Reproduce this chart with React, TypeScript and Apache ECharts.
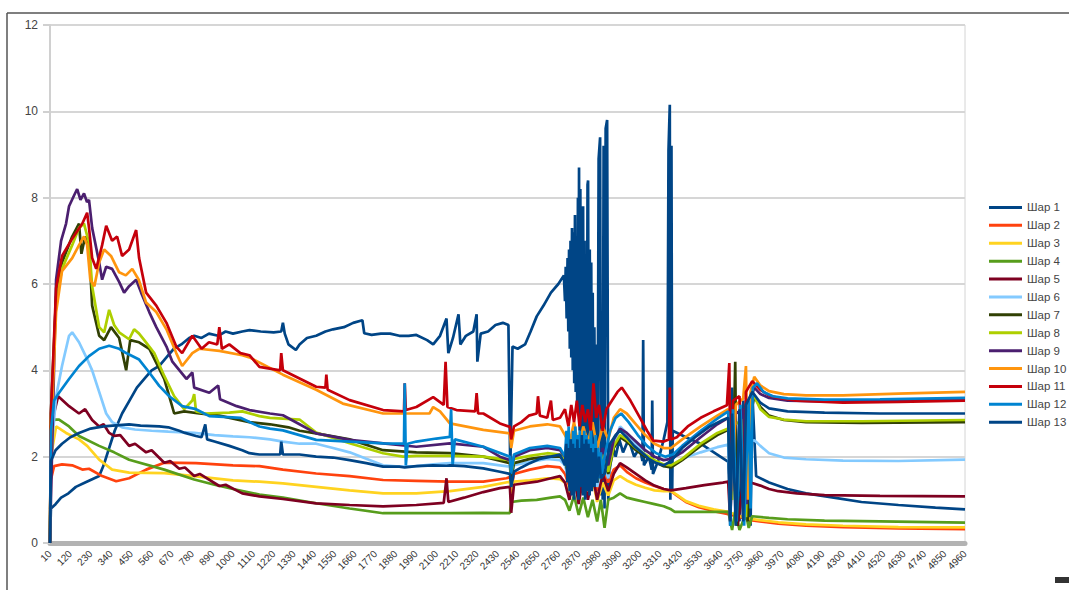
import React, { useEffect, useRef } from "react";
import * as echarts from "echarts";

type Pt = [number, number];

const SERIES_NAMES = ["Шар 1","Шар 2","Шар 3","Шар 4","Шар 5","Шар 6","Шар 7","Шар 8","Шар 9","Шар 10","Шар 11","Шар 12","Шар 13"];
const COLORS = ["#004586","#ff420e","#ffd320","#579d1c","#7e0021","#83caff","#314004","#aecf00","#4b1f6f","#ff950e","#c5000b","#0084d1","#004586"];

const X_FIRST = 10;
const X_LAST = 4960;
const X_STEP = 110;
const Y_MAX = 12;
const Y_STEP = 2;

const SHAR1: Pt[] = [[10,0],[15,0.8],[40,0.9],[70,1.05],[110,1.15],[150,1.3],[200,1.4],[250,1.5],[276,1.55],[300,1.8],[330,2.2],[360,2.6],[400,3.0],[440,3.3],[480,3.6],[520,3.8],[560,4.0],[600,4.1],[640,4.3],[680,4.5],[720,4.6],[763,4.75],[790,4.8],[830,4.75],[870,4.85],[920,4.8],[960,4.9],[1000,4.85],[1050,4.9],[1089,4.93],[1150,4.9],[1220,4.88],[1261,4.9],[1270,5.1],[1280,4.85],[1300,4.6],[1340,4.47],[1360,4.6],[1400,4.75],[1450,4.8],[1500,4.9],[1541,4.95],[1600,5.0],[1650,5.1],[1700,5.16],[1710,4.86],[1750,4.82],[1800,4.85],[1850,4.85],[1900,4.8],[1950,4.8],[1992,4.82],[2050,4.7],[2083,4.6],[2120,4.8],[2155,5.2],[2165,4.4],[2190,4.75],[2220,5.3],[2230,4.6],[2260,4.8],[2300,4.9],[2318,5.3],[2322,4.2],[2340,4.85],[2380,4.9],[2420,5.05],[2460,5.1],[2490,5.05],[2500,1.7],[2512,4.55],[2540,4.5],[2580,4.6],[2610,4.9],[2643,5.25],[2680,5.5],[2720,5.8],[2760,6.0],[2790,6.2],[2796,5.6],[2800,6.4],[2805,5.2],[2810,6.6],[2814,4.9],[2818,6.8],[2822,4.5],[2826,7.0],[2830,4.3],[2834,7.3],[2838,4.0],[2842,7.2],[2846,3.7],[2850,7.6],[2854,3.5],[2858,6.8],[2862,3.2],[2866,8.0],[2869,3.0],[2872,8.7],[2875,2.6],[2879,8.2],[2883,2.4],[2886,7.5],[2890,2.8],[2894,7.8],[2898,2.2],[2902,7.0],[2906,2.0],[2910,6.6],[2914,1.9],[2918,8.3],[2921,8.4],[2925,1.7],[2930,6.8],[2934,1.8],[2938,6.5],[2942,1.5],[2946,5.8],[2950,1.6],[2955,5.0],[2960,1.4],[2965,4.6],[2972,1.2],[2978,8.9],[2986,9.4],[2990,1.1],[2995,3.5],[3000,1.0],[3005,9.2],[3010,0.8],[3016,9.6],[3024,9.8],[3030,1.0],[3034,1.5],[3050,2.3],[3070,2.0],[3090,2.4],[3110,2.1],[3140,2.4],[3170,2.0],[3200,2.2],[3215,1.9],[3219,4.7],[3223,1.8],[3250,2.0],[3265,1.7],[3268,3.3],[3272,1.6],[3300,1.9],[3330,2.4],[3350,2.8],[3356,9.1],[3363,10.15],[3366,1.0],[3372,9.2],[3376,1.2],[3379,2.6],[3450,2.45],[3530,2.3],[3620,2.05],[3680,1.88],[3690,0.4],[3700,3.6],[3715,1.8],[3740,0.5],[3760,3.3],[3790,1.6],[3800,0.4],[3809,3.5],[3830,1.55],[3900,1.4],[4000,1.25],[4100,1.15],[4250,1.05],[4400,0.95],[4600,0.88],[4800,0.82],[4960,0.78]];

const SHAR2: Pt[] = [[10,0],[15,1.47],[32,1.78],[75,1.82],[130,1.8],[185,1.7],[221,1.72],[292,1.55],[368,1.43],[438,1.5],[530,1.7],[628,1.86],[800,1.85],[1000,1.8],[1143,1.78],[1270,1.7],[1450,1.61],[1631,1.55],[1812,1.46],[1992,1.44],[2173,1.42],[2354,1.42],[2480,1.5],[2498,1.53],[2505,1.25],[2520,1.6],[2606,1.7],[2700,1.78],[2769,1.75],[2796,1.6],[2820,1.3],[2845,1.85],[2870,1.2],[2895,1.8],[2920,1.3],[2945,1.75],[2970,1.2],[3000,1.7],[3030,1.4],[3060,1.7],[3094,1.8],[3130,1.65],[3180,1.5],[3230,1.4],[3280,1.32],[3330,1.25],[3370,1.2],[3400,1.1],[3450,0.95],[3520,0.83],[3600,0.74],[3680,0.67],[3720,0.62],[3760,0.58],[3800,0.53],[3850,0.5],[3950,0.45],[4100,0.4],[4300,0.37],[4600,0.34],[4960,0.32]];

const SHAR3: Pt[] = [[10,0],[15,2.0],[43,2.7],[97,2.55],[167,2.4],[211,2.25],[276,1.93],[346,1.7],[438,1.63],[628,1.62],[790,1.55],[1000,1.45],[1143,1.42],[1270,1.38],[1450,1.3],[1631,1.22],[1812,1.15],[1992,1.15],[2173,1.2],[2354,1.3],[2498,1.42],[2505,1.15],[2520,1.42],[2606,1.45],[2700,1.5],[2769,1.48],[2796,1.4],[2820,1.1],[2845,1.5],[2870,1.0],[2895,1.45],[2920,1.05],[2945,1.5],[2970,0.95],[3000,1.4],[3030,1.1],[3060,1.45],[3094,1.55],[3130,1.45],[3180,1.35],[3230,1.28],[3280,1.22],[3330,1.2],[3370,1.2],[3400,1.12],[3450,0.97],[3520,0.86],[3600,0.78],[3680,0.72],[3720,0.66],[3760,0.6],[3800,0.56],[3850,0.53],[3950,0.48],[4100,0.43],[4300,0.4],[4600,0.37],[4960,0.36]];

const SHAR4: Pt[] = [[10,0],[15,2.4],[32,2.86],[59,2.86],[113,2.7],[167,2.48],[276,2.25],[357,2.1],[438,1.93],[628,1.7],[790,1.47],[900,1.35],[1000,1.25],[1143,1.12],[1270,1.05],[1450,0.92],[1631,0.8],[1812,0.69],[1992,0.69],[2173,0.69],[2354,0.7],[2498,0.69],[2505,0.95],[2560,0.98],[2643,1.0],[2720,1.05],[2769,1.08],[2796,1.0],[2820,0.75],[2845,1.1],[2870,0.65],[2895,1.05],[2920,0.6],[2945,1.0],[2970,0.5],[2990,1.0],[3010,0.35],[3030,1.0],[3060,1.05],[3094,1.15],[3130,1.05],[3180,1.0],[3230,0.95],[3280,0.9],[3330,0.85],[3370,0.78],[3390,0.72],[3500,0.72],[3600,0.72],[3680,0.72],[3700,0.3],[3717,0.75],[3740,0.3],[3775,0.68],[3790,0.35],[3809,0.62],[3900,0.58],[4000,0.55],[4200,0.52],[4500,0.5],[4960,0.47]];

const SHAR5: Pt[] = [[10,0],[15,2.7],[54,3.4],[113,3.17],[167,3.0],[200,3.1],[238,2.85],[276,2.7],[300,2.75],[330,2.55],[357,2.48],[390,2.5],[438,2.25],[470,2.3],[530,2.1],[560,2.15],[628,1.86],[660,1.9],[709,1.72],[740,1.75],[790,1.55],[820,1.6],[926,1.32],[960,1.35],[1050,1.15],[1143,1.08],[1270,1.02],[1450,0.92],[1631,0.88],[1812,0.85],[1992,0.88],[2140,0.93],[2155,1.5],[2165,0.95],[2250,1.05],[2354,1.18],[2444,1.27],[2498,1.3],[2505,0.7],[2520,1.35],[2643,1.42],[2720,1.5],[2769,1.55],[2796,1.4],[2820,1.0],[2845,1.6],[2870,0.9],[2895,1.55],[2920,1.0],[2945,1.6],[2970,1.0],[3000,1.6],[3030,1.2],[3060,1.6],[3094,1.85],[3130,1.75],[3180,1.6],[3230,1.45],[3280,1.33],[3330,1.25],[3370,1.22],[3450,1.27],[3550,1.34],[3650,1.4],[3679,1.42],[3690,0.5],[3705,2.6],[3717,1.4],[3730,0.4],[3760,1.45],[3775,0.6],[3800,1.4],[3853,1.33],[3900,1.25],[3950,1.2],[4050,1.15],[4200,1.11],[4500,1.09],[4960,1.08]];

const SHAR6: Pt[] = [[10,0],[15,2.0],[43,3.4],[75,4.1],[113,4.8],[130,4.88],[167,4.65],[211,4.26],[238,4.0],[276,3.5],[314,3.0],[346,2.8],[400,2.68],[470,2.63],[560,2.6],[650,2.58],[790,2.55],[900,2.5],[1000,2.47],[1089,2.45],[1200,2.4],[1270,2.35],[1360,2.3],[1450,2.3],[1541,2.2],[1631,2.1],[1721,1.95],[1812,1.8],[1900,1.77],[1992,1.78],[2083,1.82],[2173,1.85],[2260,1.85],[2354,1.85],[2444,1.8],[2498,1.77],[2505,1.45],[2520,1.8],[2606,1.88],[2700,1.95],[2769,1.92],[2796,1.8],[2820,1.4],[2845,2.1],[2870,1.3],[2895,1.9],[2920,1.4],[2945,2.0],[2970,1.3],[3000,1.9],[3030,1.5],[3060,2.3],[3094,2.7],[3130,2.55],[3180,2.3],[3230,2.05],[3280,1.9],[3330,1.78],[3370,1.78],[3430,1.95],[3530,2.1],[3620,2.22],[3679,2.28],[3690,1.3],[3710,2.3],[3760,1.8],[3780,2.33],[3820,2.38],[3853,2.25],[3900,2.08],[3980,1.98],[4100,1.94],[4300,1.91],[4600,1.9],[4960,1.93]];

const SHAR7: Pt[] = [[10,0],[15,3.0],[43,5.7],[75,6.5],[130,7.1],[167,7.4],[180,6.7],[200,7.1],[221,6.9],[238,5.5],[276,4.8],[303,4.7],[340,5.0],[384,4.75],[422,4.0],[444,4.7],[492,4.65],[547,4.5],[628,3.8],[682,3.0],[736,3.05],[818,3.0],[926,2.95],[1089,2.8],[1200,2.75],[1300,2.68],[1360,2.6],[1450,2.54],[1631,2.4],[1812,2.15],[1992,2.1],[2173,2.08],[2354,2.0],[2498,1.85],[2505,1.5],[2520,1.85],[2606,1.95],[2700,2.0],[2769,2.0],[2796,1.9],[2820,1.5],[2845,2.1],[2870,1.4],[2895,2.0],[2920,1.5],[2945,2.05],[2970,1.4],[3000,2.0],[3030,1.6],[3060,2.2],[3094,2.45],[3130,2.35],[3180,2.15],[3230,2.0],[3280,1.88],[3330,1.78],[3370,1.75],[3430,1.92],[3530,2.25],[3620,2.5],[3679,2.62],[3710,2.7],[3717,4.2],[3725,0.4],[3740,2.8],[3770,2.85],[3785,0.5],[3800,2.95],[3820,3.4],[3853,3.15],[3900,2.95],[3980,2.85],[4100,2.8],[4400,2.78],[4960,2.8]];

const SHAR8: Pt[] = [[10,0],[15,2.8],[43,5.6],[75,6.35],[130,6.9],[167,7.3],[194,7.4],[221,6.95],[238,5.95],[276,5.0],[303,4.88],[330,5.4],[357,5.05],[384,4.88],[438,4.72],[465,4.95],[492,4.85],[520,4.7],[574,4.4],[628,3.87],[682,3.4],[736,3.1],[780,3.3],[790,3.45],[800,3.05],[850,3.0],[980,3.02],[1050,3.05],[1143,2.94],[1200,2.9],[1270,2.88],[1360,2.86],[1450,2.56],[1631,2.31],[1812,2.08],[1920,2.0],[1992,2.02],[2173,2.02],[2354,2.0],[2498,1.92],[2505,1.6],[2520,1.95],[2606,2.02],[2700,2.08],[2769,2.05],[2796,1.95],[2820,1.55],[2845,2.15],[2870,1.45],[2895,2.05],[2920,1.55],[2945,2.1],[2970,1.45],[3000,2.05],[3030,1.65],[3060,2.25],[3094,2.5],[3130,2.4],[3180,2.2],[3230,2.05],[3280,1.92],[3330,1.82],[3370,1.8],[3430,1.95],[3530,2.3],[3620,2.55],[3679,2.65],[3700,1.0],[3715,2.75],[3760,2.85],[3775,0.6],[3790,2.95],[3815,3.45],[3853,3.1],[3900,2.92],[3980,2.86],[4100,2.82],[4400,2.82],[4960,2.85]];

const SHAR9: Pt[] = [[10,0],[15,1.0],[43,6.1],[70,7.0],[97,7.4],[113,7.8],[140,8.05],[157,8.2],[175,7.95],[194,8.1],[210,7.9],[221,7.95],[238,7.3],[276,6.5],[292,6.1],[314,6.4],[346,6.35],[384,6.05],[411,5.8],[438,5.95],[476,6.1],[503,5.8],[547,5.35],[585,5.0],[640,4.55],[672,4.2],[748,3.8],[780,3.95],[790,3.6],[872,3.48],[920,3.65],[930,3.33],[1020,3.17],[1089,3.08],[1200,3.0],[1270,2.96],[1360,2.75],[1450,2.54],[1631,2.39],[1812,2.31],[1992,2.23],[2173,2.31],[2354,2.23],[2444,2.0],[2498,1.92],[2505,1.7],[2520,2.0],[2606,2.15],[2700,2.2],[2769,2.15],[2796,2.0],[2820,1.7],[2845,2.3],[2870,1.6],[2895,2.2],[2920,1.7],[2945,2.3],[2970,1.6],[3000,2.2],[3030,1.8],[3060,2.4],[3094,2.65],[3130,2.55],[3180,2.35],[3230,2.15],[3280,2.0],[3330,1.92],[3370,1.95],[3430,2.1],[3530,2.45],[3620,2.75],[3679,2.9],[3700,1.4],[3720,3.0],[3760,3.1],[3780,0.9],[3795,3.25],[3820,3.6],[3853,3.45],[3900,3.36],[4000,3.3],[4200,3.28],[4500,3.3],[4960,3.34]];

const SHAR10: Pt[] = [[10,0],[15,2.5],[43,5.35],[75,6.3],[130,6.6],[167,6.9],[194,7.1],[211,6.9],[228,6.1],[250,5.95],[276,6.5],[303,6.8],[340,6.65],[384,6.27],[420,6.2],[455,6.35],[490,6.1],[530,5.57],[585,5.35],[640,4.95],[693,4.4],[725,4.1],[780,4.4],[818,4.5],[926,4.45],[1050,4.35],[1089,4.3],[1270,3.9],[1450,3.55],[1594,3.23],[1812,3.0],[2000,3.0],[2063,3.0],[2083,3.15],[2120,3.05],[2173,2.77],[2354,2.62],[2498,2.54],[2505,2.2],[2520,2.6],[2606,2.7],[2700,2.75],[2769,2.7],[2796,2.5],[2820,2.3],[2845,2.8],[2870,2.2],[2895,2.7],[2920,2.3],[2945,2.8],[2970,2.2],[3000,2.7],[3030,2.4],[3060,2.9],[3094,3.1],[3130,3.0],[3180,2.75],[3230,2.5],[3280,2.3],[3330,2.2],[3370,2.2],[3430,2.4],[3530,2.7],[3620,2.95],[3679,3.1],[3700,1.2],[3720,3.2],[3760,3.35],[3775,4.1],[3785,1.0],[3800,3.5],[3820,3.85],[3853,3.65],[3900,3.52],[3980,3.45],[4100,3.42],[4300,3.42],[4600,3.46],[4960,3.5]];

const SHAR11: Pt[] = [[10,0],[15,3.0],[43,5.9],[75,6.65],[130,7.05],[185,7.4],[211,7.65],[221,7.3],[238,6.6],[260,6.35],[292,6.9],[314,7.35],[346,7.0],[373,7.1],[400,6.65],[438,6.8],[476,7.25],[492,6.6],[530,5.8],[585,5.5],[640,5.1],[693,4.55],[725,4.4],[780,4.8],[830,4.5],[870,4.65],[915,4.6],[926,5.0],[940,4.5],[980,4.6],[1040,4.4],[1089,4.35],[1143,4.08],[1255,4.0],[1261,4.4],[1270,4.0],[1450,3.62],[1500,3.6],[1505,3.9],[1512,3.55],[1631,3.31],[1812,3.08],[1925,3.05],[1929,3.7],[1935,3.08],[1992,3.15],[2083,3.38],[2140,3.2],[2150,4.2],[2160,3.15],[2209,3.08],[2310,3.05],[2318,3.47],[2326,3.0],[2354,3.0],[2444,2.77],[2498,2.69],[2505,2.4],[2520,2.7],[2560,2.8],[2600,2.95],[2643,3.0],[2650,3.4],[2660,2.95],[2700,2.9],[2720,3.3],[2730,2.85],[2769,2.9],[2796,3.1],[2815,2.7],[2830,3.2],[2845,2.8],[2860,3.3],[2875,2.7],[2890,3.2],[2905,2.8],[2920,3.1],[2935,2.6],[2950,3.7],[2965,2.9],[2980,3.2],[3000,2.6],[3020,3.1],[3050,3.3],[3080,3.5],[3103,3.6],[3150,3.3],[3202,2.9],[3240,2.6],[3274,2.37],[3330,2.35],[3358,2.4],[3363,3.6],[3370,2.4],[3401,2.45],[3460,2.7],[3530,2.9],[3600,3.05],[3672,3.19],[3685,4.17],[3692,0.8],[3705,3.3],[3740,3.4],[3760,0.6],[3775,3.5],[3809,3.75],[3853,3.55],[3900,3.42],[3950,3.36],[4050,3.3],[4300,3.25],[4600,3.27],[4960,3.3]];

const SHAR12: Pt[] = [[10,0],[15,2.6],[32,3.3],[59,3.48],[113,3.8],[167,4.1],[221,4.33],[276,4.5],[330,4.57],[384,4.5],[422,4.4],[492,4.25],[547,3.95],[601,3.64],[655,3.4],[725,3.17],[800,3.1],[872,2.94],[950,2.92],[1040,2.9],[1143,2.7],[1200,2.65],[1270,2.61],[1450,2.39],[1631,2.35],[1812,2.31],[1925,2.3],[1929,3.7],[1935,1.8],[1945,2.3],[1992,2.35],[2100,2.42],[2173,2.46],[2180,3.1],[2188,1.8],[2200,2.4],[2354,2.23],[2498,2.0],[2505,1.6],[2520,2.05],[2606,2.2],[2700,2.25],[2769,2.2],[2796,2.0],[2804,2.6],[2810,1.6],[2816,2.7],[2822,1.3],[2828,2.4],[2834,1.5],[2840,2.6],[2846,1.4],[2852,2.7],[2858,1.3],[2864,2.5],[2870,1.2],[2876,2.6],[2882,1.4],[2888,2.4],[2894,1.3],[2900,2.6],[2906,1.5],[2912,2.5],[2918,1.3],[2924,2.4],[2930,1.4],[2936,2.6],[2942,1.5],[2948,2.3],[2955,1.3],[2962,2.5],[2968,1.4],[2975,2.2],[2982,1.5],[2990,2.1],[2998,1.6],[3010,2.0],[3040,2.6],[3070,2.9],[3100,3.0],[3140,2.8],[3190,2.5],[3240,2.25],[3290,2.08],[3340,2.0],[3380,2.05],[3430,2.25],[3530,2.6],[3620,2.88],[3679,3.05],[3690,0.4],[3705,3.1],[3725,0.5],[3745,3.2],[3765,0.4],[3790,3.3],[3800,0.8],[3812,3.6],[3835,3.7],[3870,3.5],[3920,3.4],[4000,3.35],[4200,3.32],[4500,3.33],[4960,3.36]];

const SHAR13: Pt[] = [[10,0],[15,1.9],[40,2.15],[75,2.3],[120,2.45],[167,2.55],[230,2.65],[300,2.7],[350,2.72],[438,2.75],[500,2.72],[601,2.7],[650,2.68],[709,2.6],[740,2.55],[800,2.48],[830,2.45],[850,2.75],[860,2.4],[900,2.35],[980,2.25],[1050,2.15],[1089,2.08],[1143,2.05],[1255,2.05],[1261,2.35],[1270,2.05],[1360,2.05],[1450,2.0],[1541,1.98],[1631,1.92],[1721,1.85],[1812,1.77],[1900,1.77],[1929,1.75],[1992,1.78],[2083,1.8],[2155,1.79],[2173,1.8],[2250,1.78],[2354,1.73],[2444,1.65],[2498,1.6],[2505,1.3],[2520,1.65],[2560,1.75],[2606,1.85],[2660,1.95],[2720,2.0],[2769,2.05],[2796,1.8],[2803,2.3],[2809,1.4],[2815,2.2],[2821,1.2],[2827,2.4],[2833,1.1],[2839,2.3],[2845,1.0],[2851,2.2],[2857,1.2],[2863,2.4],[2869,1.0],[2875,2.2],[2881,1.3],[2887,2.5],[2893,1.1],[2899,2.3],[2905,1.0],[2911,2.4],[2917,1.2],[2923,2.3],[2929,1.1],[2935,2.2],[2941,1.2],[2947,2.1],[2955,1.3],[2962,2.2],[2970,1.4],[2980,2.0],[2990,1.5],[3010,1.6],[3040,2.3],[3070,2.5],[3094,2.6],[3130,2.45],[3170,2.25],[3210,2.1],[3250,1.95],[3290,1.85],[3330,1.8],[3370,1.9],[3430,2.2],[3500,2.45],[3580,2.7],[3650,2.85],[3679,2.9],[3690,0.5],[3700,3.0],[3720,0.4],[3740,3.1],[3760,0.5],[3775,3.2],[3809,3.5],[3853,3.25],[3900,3.12],[4000,3.05],[4200,3.02],[4500,3.0],[4960,3.0]];

const ALL_SERIES: Pt[][] = [SHAR1, SHAR2, SHAR3, SHAR4, SHAR5, SHAR6, SHAR7, SHAR8, SHAR9, SHAR10, SHAR11, SHAR12, SHAR13];

export default function App() {
  const ref = useRef<HTMLDivElement>(null);
  useEffect(() => {
    if (!ref.current) return;
    const chart = echarts.init(ref.current, undefined, { renderer: "svg" });
    const font = "Liberation Sans";
    chart.setOption({
      animation: false,
      backgroundColor: "#ffffff",
      textStyle: { fontFamily: font },
      grid: { left: 50, right: 104, top: 25, bottom: 47, show: true, borderColor: "#d4d4d4", borderWidth: 1, backgroundColor: "transparent" },
      legend: {
        orient: "vertical",
        left: 984,
        top: 196,
        padding: 5,
        icon: "rect",
        itemWidth: 33,
        itemHeight: 3,
        itemGap: 5,
        data: SERIES_NAMES,
        textStyle: { fontSize: 11.5, color: "#444", fontFamily: font, lineHeight: 12.9 },
      },
      xAxis: {
        type: "value",
        min: 0,
        max: X_LAST - X_FIRST,
        interval: X_STEP,
        axisLine: { show: true, onZero: false, lineStyle: { color: "#b3b3b3", width: 5 } },
        axisTick: { show: false },
        splitLine: { show: false },
        axisLabel: {
          rotate: 45,
          fontSize: 10,
          color: "#333",
          margin: 9,
          fontFamily: font,
          formatter: (v: number) => String(v + X_FIRST),
        },
      },
      yAxis: {
        type: "value",
        min: 0,
        max: Y_MAX,
        interval: Y_STEP,
        axisLine: { show: true, lineStyle: { color: "#d0d0d0", width: 2 } },
        axisTick: { show: true, length: 7, lineStyle: { color: "#d0d0d0", width: 2 } },
        splitLine: { show: true, lineStyle: { color: "#d6d6d6", width: 2 } },
        axisLabel: { fontSize: 12, color: "#444", margin: 12, fontFamily: font },
      },
      series: ALL_SERIES.map((pts, i) => ({
        name: SERIES_NAMES[i],
        type: "line",
        showSymbol: false,
        symbol: "none",
        data: pts.map(([t, v]) => [t - X_FIRST, v]),
        lineStyle: { color: COLORS[i], width: 2.7 },
        itemStyle: { color: COLORS[i] },
        emphasis: { disabled: true },
        silent: true,
      })),
      graphic: [
        { type: "line", shape: { x1: 7, y1: 13, x2: 1069, y2: 13 }, style: { stroke: "#555", lineWidth: 1.5 } },
        { type: "line", shape: { x1: 7, y1: 13, x2: 7, y2: 590 }, style: { stroke: "#555", lineWidth: 1.5 } },
        { type: "rect", shape: { x: 1055, y: 577, width: 14, height: 6 }, style: { fill: "#333" } },
      ],
    });
    return () => chart.dispose();
  }, []);
  return <div ref={ref} style={{ position: "absolute", left: 0, top: 0, width: 1069, height: 590 }} />;
}
